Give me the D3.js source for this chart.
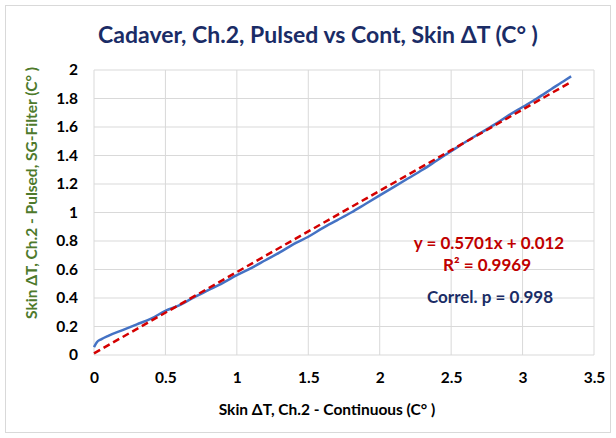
<!DOCTYPE html>
<html><head><meta charset="utf-8">
<script src="https://cdn.jsdelivr.net/npm/d3@7"></script>
<style>body{margin:0;background:#fff}svg{display:block}</style>
</head><body>
<svg id="c" width="616" height="438"></svg>
<script>
const xVals = [0, 0.02, 0.05, 0.1, 0.2, 0.3, 0.4, 0.5, 0.6, 0.7, 0.8, 0.9, 1.0, 1.1, 1.2, 1.3, 1.4, 1.5, 1.6, 1.7, 1.8, 1.9, 2.0, 2.1, 2.2, 2.3, 2.4, 2.5, 2.6, 2.7, 2.8, 2.9, 3.0, 3.1, 3.2, 3.3, 3.34];
const yVals = [0.055, 0.09, 0.11, 0.135, 0.175, 0.215, 0.255, 0.31, 0.35, 0.405, 0.455, 0.505, 0.56, 0.61, 0.665, 0.72, 0.78, 0.83, 0.89, 0.945, 1.0, 1.06, 1.12, 1.18, 1.24, 1.3, 1.365, 1.43, 1.495, 1.555, 1.615, 1.68, 1.74, 1.8, 1.865, 1.93, 1.955];
const trendSlope = 0.5701, trendIntercept = 0.012;
const trendRange = [0, 3.33];
const xTicks = [0, 0.5, 1, 1.5, 2, 2.5, 3, 3.5];
const yTicks = [0, 0.2, 0.4, 0.6, 0.8, 1, 1.2, 1.4, 1.6, 1.8, 2];

const svg = d3.select("#c");
const font = "Lato, 'Open Sans', sans-serif";
svg.append("rect").attr("x",5.5).attr("y",5.5).attr("width",605).attr("height",427)
  .attr("fill","#fff").attr("stroke","#d9d9d9");

const x = d3.scaleLinear().domain([0,3.5]).range([94,594]);
const y = d3.scaleLinear().domain([0,2]).range([355,70]);

const g = svg.append("g");
g.selectAll(".vg").data(xTicks).join("line")
  .attr("x1",d=>x(d)).attr("x2",d=>x(d)).attr("y1",y(0)).attr("y2",y(2))
  .attr("stroke","#d9d9d9").attr("stroke-width",1);
g.selectAll(".hg").data(yTicks).join("line")
  .attr("x1",x(0)).attr("x2",x(3.5)).attr("y1",d=>y(d)).attr("y2",d=>y(d))
  .attr("stroke","#d9d9d9").attr("stroke-width",1);

const xAxis = d3.axisBottom(x).tickValues(xTicks).tickSize(0).tickPadding(17).tickFormat(d3.format("~g"));
const yAxis = d3.axisLeft(y).tickValues(yTicks).tickSize(0).tickPadding(16).tickFormat(d3.format("~g"));
const gx = svg.append("g").attr("transform",`translate(0,${y(0)})`).call(xAxis);
const gy = svg.append("g").attr("transform",`translate(${x(0)},0)`).call(yAxis);
[gx,gy].forEach(a=>{a.select(".domain").remove();
  a.selectAll("text").attr("font-family",font).attr("font-weight","bold").attr("font-size",15.5).attr("fill","#000");});

const pts = xVals.map((v,i)=>[v,yVals[i]]);
svg.append("path").datum(pts)
  .attr("d", d3.line().x(d=>x(d[0])).y(d=>y(d[1])).curve(d3.curveMonotoneX))
  .attr("fill","none").attr("stroke","#4472C4").attr("stroke-width",2.5);

svg.append("path").datum(trendRange.map(v=>[v, trendSlope*v+trendIntercept]))
  .attr("d", d3.line().x(d=>x(d[0])).y(d=>y(d[1])))
  .attr("fill","none").attr("stroke","#D40000").attr("stroke-width",2.5).attr("stroke-dasharray","7,4");

svg.append("text").attr("x",318).attr("y",43).attr("text-anchor","middle")
  .attr("font-family",font).attr("font-weight","bold").attr("font-size",23).attr("fill","#1A2C66")
  .text("Cadaver, Ch.2, Pulsed vs Cont, Skin ΔT (C° )");

svg.append("text").attr("transform","translate(37,193) rotate(-90)").attr("text-anchor","middle")
  .attr("font-family",font).attr("font-weight","bold").attr("font-size",15.5).attr("fill","#4E7A2C")
  .text("Skin ΔT, Ch.2 - Pulsed, SG-Filter (C° )");

svg.append("text").attr("x",327).attr("y",415).attr("text-anchor","middle")
  .attr("font-family",font).attr("font-weight","bold").attr("font-size",15.5).attr("fill","#000")
  .text("Skin ΔT, Ch.2 - Continuous (C°  )");

const ann = svg.append("g").attr("font-family",font).attr("font-weight","bold").attr("font-size",17).attr("text-anchor","middle");
ann.append("text").attr("x",489).attr("y",249).attr("fill","#C00000").text(`y = ${trendSlope}x + ${trendIntercept}`);
ann.append("text").attr("x",487).attr("y",271).attr("fill","#C00000").text("R² = 0.9969");
ann.append("text").attr("x",490).attr("y",303).attr("fill","#1A2C66").text("Correl. p = 0.998");
</script>
</body></html>
